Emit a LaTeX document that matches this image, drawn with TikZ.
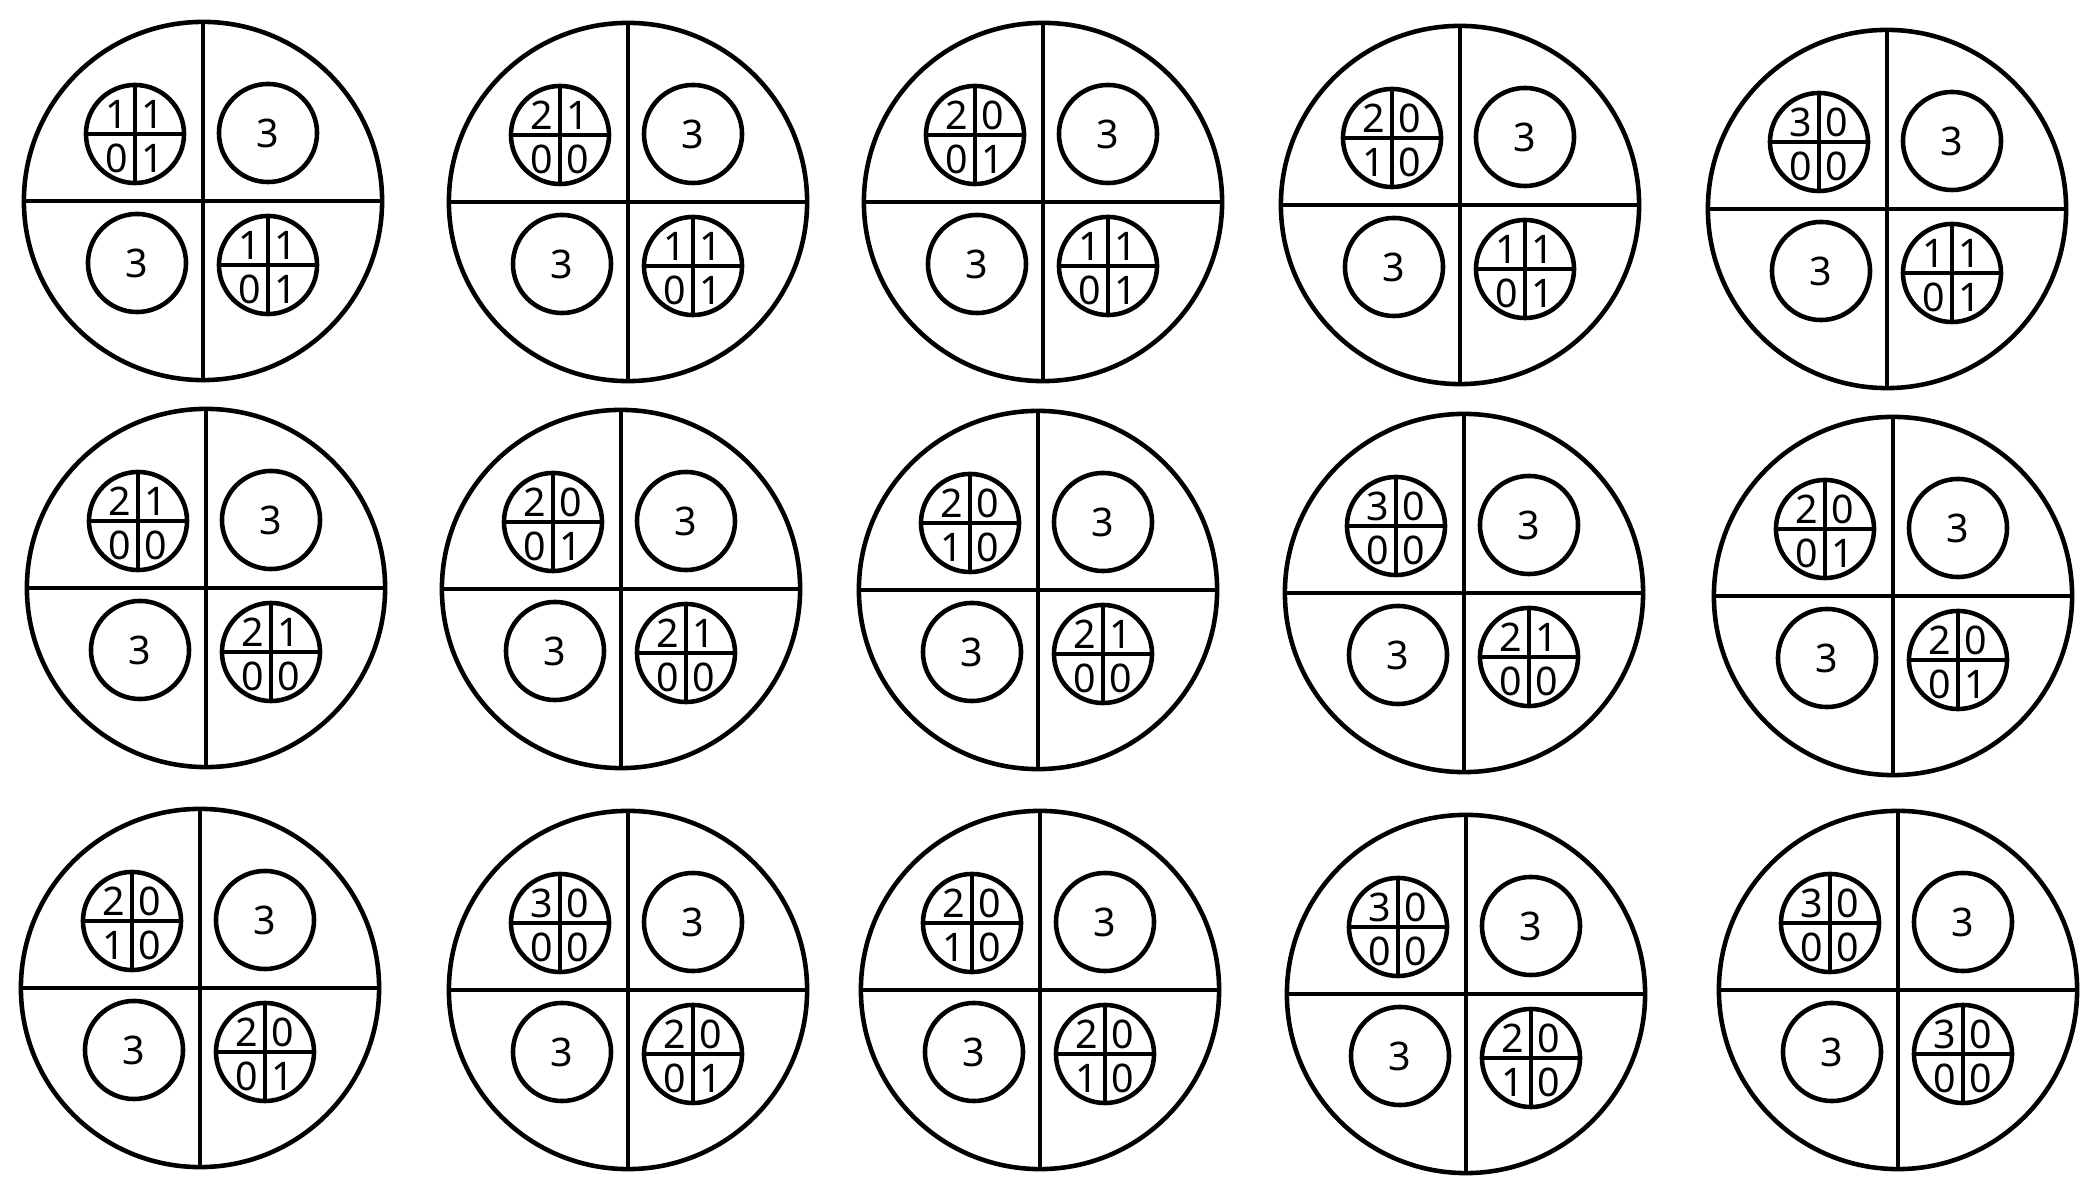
\documentclass[tikz,border=0pt]{standalone}
\usepackage{fontspec}
\setmainfont{Noto Sans}

% small circle split in four, one digit in each quarter
\newcommand\quartered[7]{%
  \node[ring] (#1) at (#2,#3) {};
  \draw[split] (#1.north) -- (#1.south) (#1.west) -- (#1.east);
  \node[digit] (#1-a) at (#2-18,#3-20) {#4};
  \node[digit] (#1-b) at (#2+18,#3-20) {#5};
  \node[digit] (#1-c) at (#2-18,#3+24) {#6};
  \node[digit] (#1-d) at (#2+18,#3+24) {#7};
}

\begin{document}
\begin{tikzpicture}[x=0.01cm, y=-0.01cm, line width=1.3pt,
  every node/.style={font=\fontsize{11.2pt}{13pt}\selectfont},
  disc/.style={circle, draw, inner sep=0pt, outer sep=0pt, minimum size=3.58cm},
  ring/.style={circle, draw, inner sep=0pt, outer sep=0pt, minimum size=0.98cm},
  split/.style={line cap=butt},
  digit/.style={inner sep=0pt}]
  \useasboundingbox (0,0) rectangle (2096,1180);

  % centre x / centre y / upper-left digits / lower-right digits
  \foreach \cx/\cy/\ta/\tb/\tc/\td/\ba/\bb/\bc/\bd [count=\i] in {
    203/201/1/1/0/1/1/1/0/1,
    628/202/2/1/0/0/1/1/0/1,
    1043/202/2/0/0/1/1/1/0/1,
    1460/205/2/0/1/0/1/1/0/1,
    1887/209/3/0/0/0/1/1/0/1,
    206/588/2/1/0/0/2/1/0/0,
    621/589/2/0/0/1/2/1/0/0,
    1038/590/2/0/1/0/2/1/0/0,
    1464/593/3/0/0/0/2/1/0/0,
    1893/596/2/0/0/1/2/0/0/1,
    200/988/2/0/1/0/2/0/0/1,
    628/990/3/0/0/0/2/0/0/1,
    1040/990/2/0/1/0/2/0/1/0,
    1466/994/3/0/0/0/2/0/1/0,
    1898/990/3/0/0/0/3/0/0/0} {
    \node[disc] (d\i) at (\cx,\cy) {};
    \draw[split] (d\i.north) -- (d\i.south) (d\i.west) -- (d\i.east);
    \quartered{d\i-tl}{\cx-68}{\cy-67}{\ta}{\tb}{\tc}{\td}
    \node[ring] (d\i-tr) at (\cx+65,\cy-68) {3};
    \node[ring] (d\i-bl) at (\cx-66,\cy+62) {3};
    \quartered{d\i-br}{\cx+65}{\cy+64}{\ba}{\bb}{\bc}{\bd}
  }
\end{tikzpicture}
\end{document}
